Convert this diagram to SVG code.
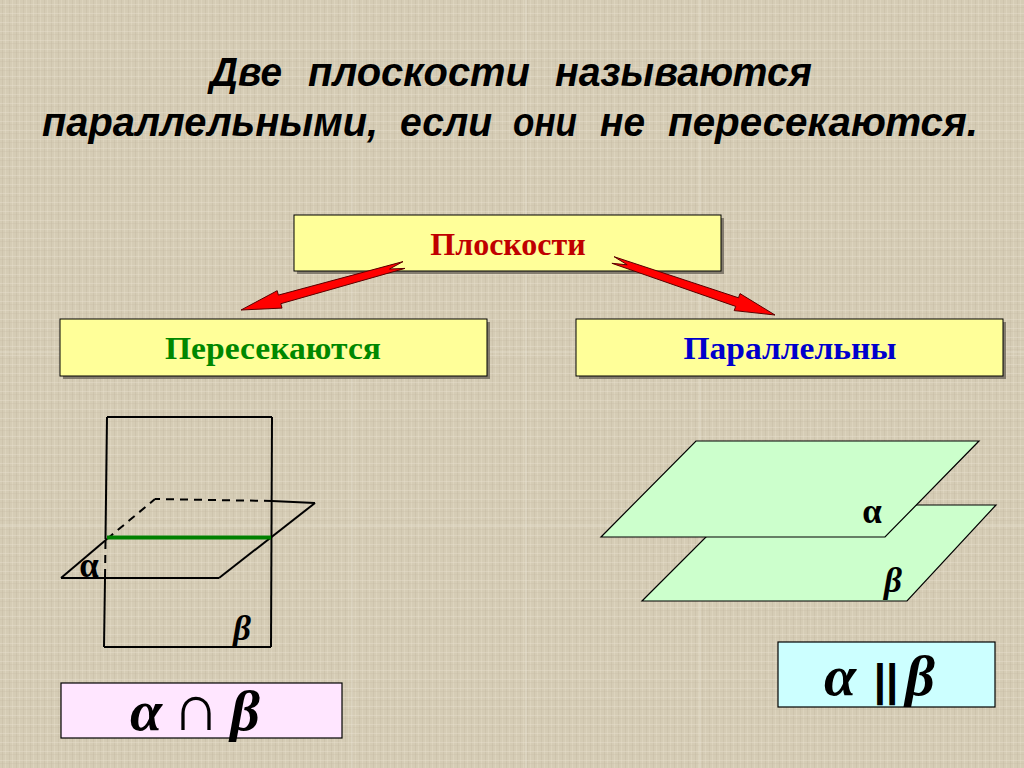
<svg xmlns="http://www.w3.org/2000/svg" width="1024" height="768" viewBox="0 0 1024 768">
<defs>
<pattern id="tex" width="7" height="9" patternUnits="userSpaceOnUse">
<rect width="7" height="9" fill="#D5CCB5"/>
<rect x="2" width="1" height="9" fill="#BFB49C" opacity="0.3"/>
<rect x="5" width="1" height="9" fill="#E6DFCC" opacity="0.35"/>
<rect y="4" width="7" height="1" fill="#E8E1CF" opacity="0.4"/>
<rect y="7" width="7" height="1" fill="#C2B8A1" opacity="0.25"/>
</pattern>
<style>
.title{font-family:"Liberation Sans",Arial,sans-serif;font-weight:bold;font-style:italic;font-size:40px;fill:#000}
.box{fill:#FFFF99;stroke:#000;stroke-width:1}
.shadow{fill:#6E685C;opacity:0.8}
.lbl{font-family:"Liberation Serif","Times New Roman",serif;font-weight:bold;font-size:32px;text-anchor:middle}
.greek{font-family:"Liberation Serif","Times New Roman",serif;font-weight:bold;font-size:35px;fill:#000;text-anchor:middle}
.it{font-style:italic}
.formula{font-family:"Liberation Serif","Times New Roman",serif;font-weight:bold;font-style:italic;font-size:58px;fill:#000;text-anchor:middle}
.op{font-family:"Liberation Serif","Times New Roman",serif;font-weight:normal;font-size:66px;fill:#000;text-anchor:middle}
.bars{font-family:"Liberation Sans",Arial,sans-serif;font-weight:bold;font-size:44px;fill:#000;text-anchor:middle}
.edge{stroke:#000;stroke-width:2;fill:none}
.dash{stroke:#000;stroke-width:2;fill:none;stroke-dasharray:8 6}
.plane{fill:#CCFFCC;stroke:#000;stroke-width:1.2}
.arrow{fill:#FF0000;stroke:#5A0000;stroke-width:1;stroke-linejoin:round}
.seam{stroke:#F2EDE0;stroke-width:1.2;opacity:0.45}
</style>
</defs>
<rect width="1024" height="768" fill="url(#tex)"/>
<g id="seams">
<line class="seam" x1="352" y1="0" x2="352" y2="768"/>
<line class="seam" x1="526" y1="0" x2="526" y2="768"/>
<line class="seam" x1="700" y1="0" x2="700" y2="768"/>
<line class="seam" x1="0" y1="352" x2="1024" y2="352"/>
<line class="seam" x1="0" y1="525" x2="1024" y2="525"/>
</g>
<g id="title">
<text class="title" x="210" y="86" textLength="72" lengthAdjust="spacingAndGlyphs">Две</text>
<text class="title" x="308" y="86" textLength="222" lengthAdjust="spacingAndGlyphs">плоскости</text>
<text class="title" x="555" y="86" textLength="257" lengthAdjust="spacingAndGlyphs">называются</text>
<text class="title" x="42" y="136" textLength="336" lengthAdjust="spacingAndGlyphs">параллельными,</text>
<text class="title" x="400" y="136" textLength="92" lengthAdjust="spacingAndGlyphs">если</text>
<text class="title" x="513" y="136" textLength="64" lengthAdjust="spacingAndGlyphs">они</text>
<text class="title" x="600" y="136" textLength="45" lengthAdjust="spacingAndGlyphs">не</text>
<text class="title" x="668" y="136" textLength="310" lengthAdjust="spacingAndGlyphs">пересекаются.</text>
</g>
<g id="node-planes">
<rect class="shadow" x="297" y="218" width="427" height="56"/>
<rect class="box" x="294" y="215" width="427" height="56"/>
<text class="lbl" x="508" y="255" fill="#C00000">Плоскости</text>
</g>
<g id="node-intersect">
<rect class="shadow" x="63" y="322" width="427" height="57"/>
<rect class="box" x="60" y="319" width="427" height="57"/>
<text class="lbl" x="273" y="359" fill="#008800" textLength="216" lengthAdjust="spacingAndGlyphs">Пересекаются</text>
</g>
<g id="node-parallel">
<rect class="shadow" x="579" y="322" width="427" height="57"/>
<rect class="box" x="576" y="319" width="427" height="57"/>
<text class="lbl" x="790" y="359" fill="#0000CC" textLength="213" lengthAdjust="spacingAndGlyphs">Параллельны</text>
</g>
<g id="connectors">
<polygon class="arrow" points="241,310 277.2,290.7 278.4,295.1 403,261.6 389.5,269 405,268.4 280.8,303.7 282,308.1"/>
<polygon class="arrow" points="775,315 740,293.6 738.5,297.8 614.1,256.7 627.2,264.8 611.9,263.3 735.7,306.4 734.2,310.6"/>
</g>
<g id="figure-intersect">
<line class="edge" x1="107" y1="417" x2="272" y2="417"/>
<line class="edge" x1="272" y1="417" x2="271" y2="647"/>
<line class="edge" x1="104" y1="647" x2="271" y2="647"/>
<line class="edge" x1="107" y1="417" x2="105.5" y2="539"/>
<line class="dash" x1="105.5" y1="541" x2="105" y2="578"/>
<line class="edge" x1="105" y1="578" x2="104" y2="647"/>
<line class="edge" x1="61" y1="578" x2="219" y2="578"/>
<line class="edge" x1="219" y1="578" x2="315" y2="503"/>
<line class="edge" x1="315" y1="503" x2="272" y2="501"/>
<line class="dash" x1="272" y1="501" x2="155" y2="499"/>
<line class="edge" x1="61" y1="578" x2="107" y2="539"/>
<line class="dash" x1="107" y1="539" x2="155" y2="499"/>
<line x1="107" y1="537.5" x2="271" y2="537.5" stroke="#008000" stroke-width="4"/>
<text class="greek" x="89" y="577">α</text>
<text class="greek it" x="242" y="640">β</text>
</g>
<g id="formula-intersect">
<rect x="61" y="683" width="281" height="55" fill="#FFE6FF" stroke="#000" stroke-width="1.2"/>
<text class="formula" x="146" y="730">α</text>
<text class="op" x="196" y="730">∩</text>
<text class="formula" x="245" y="730">β</text>
</g>
<g id="figure-parallel">
<polygon class="plane" points="738,505 996,505 907,601 642,601"/>
<polygon class="plane" points="696,441 979,441 885,537 601,537"/>
<text class="greek" x="872" y="523">α</text>
<text class="greek it" x="893" y="592">β</text>
</g>
<g id="formula-parallel">
<rect x="778" y="642" width="217" height="65" fill="#CCFFFF" stroke="#000" stroke-width="1.2"/>
<text class="formula" x="840" y="695">α</text>
<text class="bars" x="886" y="695">||</text>
<text class="formula" x="920" y="695">β</text>
</g>
</svg>
